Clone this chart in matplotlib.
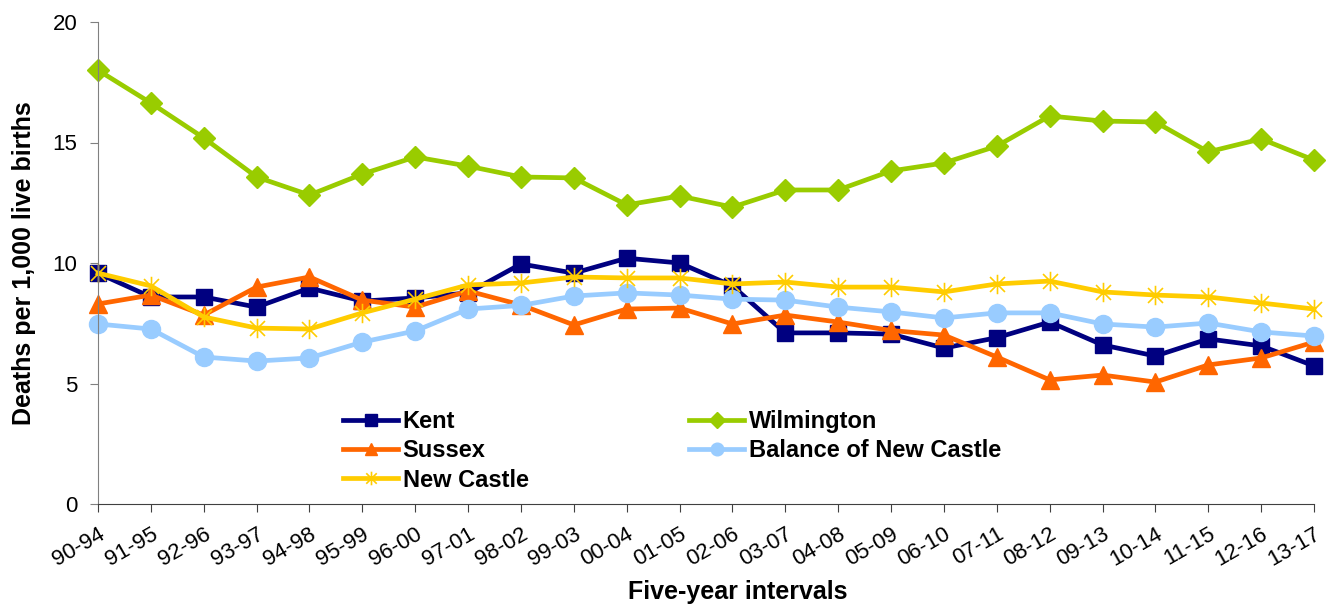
import numpy as np
import matplotlib
matplotlib.use("Agg")
import matplotlib.pyplot as plt
from matplotlib.path import Path

plt.rcParams["font.family"] = ["Liberation Sans", "DejaVu Sans"]

intervals = ["90-94", "91-95", "92-96", "93-97", "94-98", "95-99", "96-00", "97-01",
             "98-02", "99-03", "00-04", "01-05", "02-06", "03-07", "04-08", "05-09",
             "06-10", "07-11", "08-12", "09-13", "10-14", "11-15", "12-16", "13-17"]

kent = [9.58, 8.59, 8.59, 8.17, 8.96, 8.42, 8.55, 8.76, 9.96, 9.58, 10.2, 10.0,
        9.05, 7.1, 7.1, 7.05, 6.47, 6.9, 7.55, 6.6, 6.14, 6.85, 6.56, 5.73]
wilmington = [18.0, 16.64, 15.19, 13.57, 12.82, 13.69, 14.4, 14.02, 13.57, 13.53, 12.41, 12.78,
              12.32, 13.03, 13.03, 13.82, 14.15, 14.85, 16.1, 15.89, 15.85, 14.61, 15.15, 14.27]
sussex = [8.3, 8.67, 7.84, 9.0, 9.42, 8.46, 8.17, 8.84, 8.26, 7.43, 8.09, 8.13,
          7.47, 7.84, 7.55, 7.2, 7.01, 6.1, 5.15, 5.35, 5.06, 5.77, 6.06, 6.72]
balance_nc = [7.47, 7.26, 6.1, 5.93, 6.06, 6.72, 7.18, 8.09, 8.24, 8.63, 8.76, 8.67,
              8.5, 8.46, 8.17, 7.97, 7.72, 7.93, 7.93, 7.47, 7.34, 7.51, 7.14, 6.97]
new_castle = [9.58, 9.05, 7.76, 7.3, 7.26, 7.93, 8.5, 9.09, 9.17, 9.42, 9.38, 9.38,
              9.13, 9.21, 9.0, 9.0, 8.8, 9.13, 9.25, 8.8, 8.67, 8.59, 8.34, 8.09]

# excel-style asterisk: x plus vertical bar
asterisk = Path([(-1, -1), (1, 1), (-1, 1), (1, -1), (0, -1.3), (0, 1.3)],
                [Path.MOVETO, Path.LINETO, Path.MOVETO, Path.LINETO, Path.MOVETO, Path.LINETO])

fig = plt.figure(figsize=(13.27, 6.05), dpi=100)
ax = fig.add_axes([98 / 1327, 101 / 605, 1216 / 1327, 482 / 605])

x = np.arange(len(intervals))
lw = 3.4
series = [
    ("Kent", kent, "#000080", "s", 12, {}),
    ("Wilmington", wilmington, "#99CC00", "D", 11, {}),
    ("Sussex", sussex, "#FF6600", "^", 13, {}),
    ("Balance of New Castle", balance_nc, "#99CCFF", "o", 13, {}),
    ("New Castle", new_castle, "#FFCC00", asterisk, 14, {"markeredgewidth": 1.2, "markerfacecolor": "none"}),
]
handles = {}
for name, vals, col, mk, ms, extra in series:
    (h,) = ax.plot(x, vals, color=col, lw=lw, marker=mk, markersize=ms,
                   markeredgecolor=col, markerfacecolor=extra.get("markerfacecolor", col),
                   markeredgewidth=extra.get("markeredgewidth", 1), clip_on=False, label=name)
    handles[name] = h

ax.set_xlim(0, len(intervals) - 1)
ax.set_ylim(0, 20)
ax.set_yticks([0, 5, 10, 15, 20])
ax.set_xticks(x)
ax.set_xticklabels(intervals, rotation=30, ha="right", rotation_mode="anchor")

for s in ["top", "right"]:
    ax.spines[s].set_visible(False)
ax.spines["left"].set_color("#808080")
ax.spines["bottom"].set_color("#404040")
ax.tick_params(axis="y", direction="out", length=6, color="#808080", labelsize=16, pad=9)
ax.tick_params(axis="x", direction="out", length=6, color="#404040", labelsize=16, pad=8)

ax.set_ylabel("Deaths per 1,000 live births", fontsize=18, fontweight="bold")
ax.yaxis.set_label_coords(-62 / 1216, 0.5)
ax.set_xlabel("Five-year intervals", fontsize=18, fontweight="bold")
ax.xaxis.set_label_coords((738 - 98) / 1216, -(580 - 504) / 482)

order = ["Kent", "Sussex", "New Castle", "Wilmington", "Balance of New Castle"]
fig.legend([handles[n] for n in order], order, ncol=2, loc="upper left",
           bbox_to_anchor=(343 / 1327, 1 - 410 / 605), frameon=False,
           prop={"size": 17, "weight": "bold"}, handlelength=2.33, handletextpad=0.2,
           labelspacing=0.27, columnspacing=6.8, markerscale=0.7, borderpad=0,
           borderaxespad=0)

fig.savefig("out.png", dpi=100)
